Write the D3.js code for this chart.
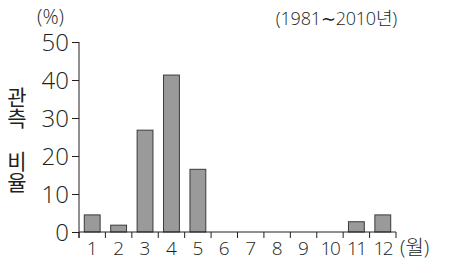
<!DOCTYPE html>
<html>
<head>
<meta charset="utf-8">
<script src="https://cdn.jsdelivr.net/npm/d3@7"></script>
<style>
  body { margin: 0; background: #fff; }
  text { font-family: "Open Sans", "Noto Sans CJK KR", sans-serif; font-weight: 300; fill: #231f20; }
</style>
</head>
<body>
<svg width="457" height="266"></svg>
<script>
  const months = ["1", "2", "3", "4", "5", "6", "7", "8", "9", "10", "11", "12"];
  const ratios = [4.5, 1.8, 26.8, 41.3, 16.5, 0, 0, 0, 0, 0, 2.7, 4.5];
  const yTicks = [0, 10, 20, 30, 40, 50];

  const svg = d3.select("svg");
  const margin = { top: 42, left: 79, right: 61, bottom: 34 };
  const width = +svg.attr("width");
  const height = +svg.attr("height");
  const innerWidth = width - margin.left - margin.right;
  const innerHeight = height - margin.top - margin.bottom;

  const data = months.map((m, i) => ({ month: m, value: ratios[i] }));

  const xScale = d3.scaleBand().domain(months).range([0, innerWidth]).paddingInner(0.4).paddingOuter(0.2);
  const yScale = d3.scaleLinear().domain([0, 50]).range([innerHeight, 0]);

  const g = svg.append("g").attr("transform", `translate(${margin.left},${margin.top})`);

  // bars
  g.selectAll("rect")
    .data(data.filter((d) => d.value > 0))
    .enter()
    .append("rect")
    .attr("x", (d) => xScale(d.month))
    .attr("y", (d) => yScale(d.value))
    .attr("width", xScale.bandwidth())
    .attr("height", (d) => yScale(0) - yScale(d.value))
    .attr("fill", "#9a9a9a")
    .attr("stroke", "#3a3a3a")
    .attr("stroke-width", 1);

  // y axis
  const yAxis = d3.axisLeft(yScale).tickValues(yTicks).tickSize(7).tickPadding(3);
  const yAxisG = g.append("g").call(yAxis);
  yAxisG.select(".domain").attr("stroke", "#231f20").attr("d", `M0,${innerHeight + 6}V0`);
  yAxisG.selectAll(".tick line").attr("stroke", "#231f20");
  yAxisG.selectAll(".tick text")
    .attr("font-size", 24)
    .attr("dy", "0.36em")
    .attr("fill", "#231f20");

  // x axis: ticks between months, pointing down
  const step = xScale.step();
  const xG = g.append("g").attr("transform", `translate(0,${innerHeight})`);
  xG.append("line").attr("x1", 0).attr("x2", innerWidth).attr("stroke", "#231f20");
  xG.selectAll(".sep")
    .data(d3.range(months.length + 1))
    .enter()
    .append("line")
    .attr("x1", (i) => i * step)
    .attr("x2", (i) => i * step)
    .attr("y1", 0)
    .attr("y2", 6)
    .attr("stroke", "#231f20");
  xG.selectAll(".lbl")
    .data(months)
    .enter()
    .append("text")
    .attr("x", (m) => xScale(m) + xScale.bandwidth() / 2)
    .attr("y", 23)
    .attr("text-anchor", "middle")
    .attr("font-size", 19)
    .attr("letter-spacing", (m) => (m.length > 1 ? -1.5 : 0))
    .text((m) => m);
  xG.append("text")
    .attr("x", innerWidth + 4)
    .attr("y", 23)
    .attr("font-size", 20)
    .text("(월)");

  // units and titles
  svg.append("text")
    .attr("x", 37).attr("y", 24)
    .attr("font-size", 20)
    .text("(%)");
  svg.append("text")
    .attr("x", 397)
    .attr("y", 25)
    .attr("text-anchor", "end")
    .attr("font-size", 18)
    .attr("letter-spacing", -0.2)
    .text("(1981∼2010년)");

  const yTitle = ["관", "측", "", "비", "율"];
  svg.selectAll(".ytitle")
    .data(yTitle)
    .enter()
    .append("text")
    .attr("x", 17)
    .attr("y", (c, i) => 105 + i * 21 + (i > 2 ? 1 : 0))
    .attr("text-anchor", "middle")
    .attr("font-size", 21)
    .style("font-family", "'Noto Sans CJK KR', sans-serif")
    .style("font-weight", 400)
    .text((c) => c);
</script>
</body>
</html>
